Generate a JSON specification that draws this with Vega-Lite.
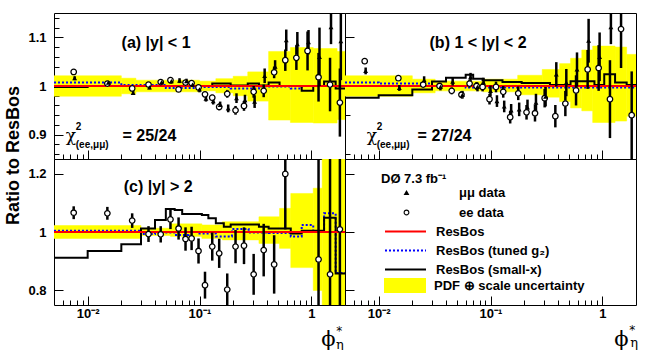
{
"$schema":"https://vega.github.io/schema/vega-lite/v6.json",
"padding":{"left":3,"top":12,"right":0,"bottom":0},
"background":"white",
"bounds":"flush",
"spacing":0,
"columns":2,
"datasets":{
"band":[
{"p":"a","s":"PDF ⊕ scale uncertainty","x1":0.005,"x2":0.02,"lo":0.979,"hi":1.021},
{"p":"a","s":"PDF ⊕ scale uncertainty","x1":0.02,"x2":0.027,"lo":0.984,"hi":1.016},
{"p":"a","s":"PDF ⊕ scale uncertainty","x1":0.027,"x2":0.1,"lo":0.988,"hi":1.012},
{"p":"a","s":"PDF ⊕ scale uncertainty","x1":0.1,"x2":0.14,"lo":0.99,"hi":1.01},
{"p":"a","s":"PDF ⊕ scale uncertainty","x1":0.14,"x2":0.2,"lo":0.986,"hi":1.015},
{"p":"a","s":"PDF ⊕ scale uncertainty","x1":0.2,"x2":0.27,"lo":0.98,"hi":1.02},
{"p":"a","s":"PDF ⊕ scale uncertainty","x1":0.27,"x2":0.415,"lo":0.969,"hi":1.029},
{"p":"a","s":"PDF ⊕ scale uncertainty","x1":0.415,"x2":0.65,"lo":0.93,"hi":1.071},
{"p":"a","s":"PDF ⊕ scale uncertainty","x1":0.65,"x2":1.04,"lo":0.925,"hi":1.079},
{"p":"a","s":"PDF ⊕ scale uncertainty","x1":1.04,"x2":1.7,"lo":0.924,"hi":1.077},
{"p":"a","s":"PDF ⊕ scale uncertainty","x1":1.7,"x2":2,"lo":0.931,"hi":1.071},
{"p":"b","s":"PDF ⊕ scale uncertainty","x1":0.005,"x2":0.02,"lo":0.979,"hi":1.021},
{"p":"b","s":"PDF ⊕ scale uncertainty","x1":0.02,"x2":0.032,"lo":0.986,"hi":1.014},
{"p":"b","s":"PDF ⊕ scale uncertainty","x1":0.032,"x2":0.086,"lo":0.99,"hi":1.01},
{"p":"b","s":"PDF ⊕ scale uncertainty","x1":0.086,"x2":0.175,"lo":0.988,"hi":1.014},
{"p":"b","s":"PDF ⊕ scale uncertainty","x1":0.175,"x2":0.29,"lo":0.982,"hi":1.022},
{"p":"b","s":"PDF ⊕ scale uncertainty","x1":0.29,"x2":0.415,"lo":0.977,"hi":1.034},
{"p":"b","s":"PDF ⊕ scale uncertainty","x1":0.415,"x2":0.52,"lo":0.968,"hi":1.046},
{"p":"b","s":"PDF ⊕ scale uncertainty","x1":0.52,"x2":0.655,"lo":0.955,"hi":1.057},
{"p":"b","s":"PDF ⊕ scale uncertainty","x1":0.655,"x2":0.82,"lo":0.949,"hi":1.074},
{"p":"b","s":"PDF ⊕ scale uncertainty","x1":0.82,"x2":1.3,"lo":0.925,"hi":1.082},
{"p":"b","s":"PDF ⊕ scale uncertainty","x1":1.3,"x2":1.65,"lo":0.928,"hi":1.08},
{"p":"b","s":"PDF ⊕ scale uncertainty","x1":1.65,"x2":2,"lo":0.938,"hi":1.065},
{"p":"c","s":"PDF ⊕ scale uncertainty","x1":0.005,"x2":0.03,"lo":0.978,"hi":1.022},
{"p":"c","s":"PDF ⊕ scale uncertainty","x1":0.03,"x2":0.055,"lo":0.988,"hi":1.013},
{"p":"c","s":"PDF ⊕ scale uncertainty","x1":0.055,"x2":0.105,"lo":0.985,"hi":1.028},
{"p":"c","s":"PDF ⊕ scale uncertainty","x1":0.105,"x2":0.16,"lo":0.978,"hi":1.024},
{"p":"c","s":"PDF ⊕ scale uncertainty","x1":0.16,"x2":0.34,"lo":0.973,"hi":1.035},
{"p":"c","s":"PDF ⊕ scale uncertainty","x1":0.34,"x2":0.52,"lo":0.961,"hi":1.052},
{"p":"c","s":"PDF ⊕ scale uncertainty","x1":0.52,"x2":0.655,"lo":0.944,"hi":1.081},
{"p":"c","s":"PDF ⊕ scale uncertainty","x1":0.655,"x2":1.04,"lo":0.878,"hi":1.132},
{"p":"c","s":"PDF ⊕ scale uncertainty","x1":1.04,"x2":1.25,"lo":0.8,"hi":1.15},
{"p":"c","s":"PDF ⊕ scale uncertainty","x1":1.25,"x2":2,"lo":0.7,"hi":1.3}
],
"lines":[
{"p":"a","m":"ResBos","x":0.005,"r":1},{"p":"a","m":"ResBos","x":2,"r":1},
{"p":"a","m":"ResBos (tuned g₂)","x":0.005,"r":1.007},{"p":"a","m":"ResBos (tuned g₂)","x":0.02,"r":1.002},{"p":"a","m":"ResBos (tuned g₂)","x":0.05,"r":0.996},{"p":"a","m":"ResBos (tuned g₂)","x":0.1,"r":0.998},{"p":"a","m":"ResBos (tuned g₂)","x":0.19,"r":0.995},{"p":"a","m":"ResBos (tuned g₂)","x":0.34,"r":0.999},{"p":"a","m":"ResBos (tuned g₂)","x":0.655,"r":0.995},{"p":"a","m":"ResBos (tuned g₂)","x":0.82,"r":1.0},{"p":"a","m":"ResBos (tuned g₂)","x":2,"r":1.0},
{"p":"a","m":"ResBos (small-x)","x":0.005,"r":0.998},{"p":"a","m":"ResBos (small-x)","x":0.01,"r":1.0},{"p":"a","m":"ResBos (small-x)","x":0.13,"r":1.005},{"p":"a","m":"ResBos (small-x)","x":0.19,"r":1.001},{"p":"a","m":"ResBos (small-x)","x":0.27,"r":1.005},{"p":"a","m":"ResBos (small-x)","x":0.34,"r":1.001},{"p":"a","m":"ResBos (small-x)","x":0.415,"r":1.007},{"p":"a","m":"ResBos (small-x)","x":0.52,"r":1.0},{"p":"a","m":"ResBos (small-x)","x":0.82,"r":0.99},{"p":"a","m":"ResBos (small-x)","x":1.04,"r":1.0},{"p":"a","m":"ResBos (small-x)","x":1.3,"r":1.009},{"p":"a","m":"ResBos (small-x)","x":1.65,"r":0.995},{"p":"a","m":"ResBos (small-x)","x":2,"r":0.995},
{"p":"b","m":"ResBos","x":0.005,"r":1},{"p":"b","m":"ResBos","x":2,"r":1},
{"p":"b","m":"ResBos (tuned g₂)","x":0.005,"r":1.007},{"p":"b","m":"ResBos (tuned g₂)","x":0.01,"r":1.005},{"p":"b","m":"ResBos (tuned g₂)","x":0.03,"r":1.0},{"p":"b","m":"ResBos (tuned g₂)","x":0.06,"r":0.997},{"p":"b","m":"ResBos (tuned g₂)","x":2,"r":0.997},
{"p":"b","m":"ResBos (small-x)","x":0.005,"r":0.976},{"p":"b","m":"ResBos (small-x)","x":0.01,"r":0.981},{"p":"b","m":"ResBos (small-x)","x":0.02,"r":0.993},{"p":"b","m":"ResBos (small-x)","x":0.03,"r":1.009},{"p":"b","m":"ResBos (small-x)","x":0.04,"r":1.017},{"p":"b","m":"ResBos (small-x)","x":0.06,"r":1.023},{"p":"b","m":"ResBos (small-x)","x":0.07,"r":1.015},{"p":"b","m":"ResBos (small-x)","x":0.085,"r":1.012},{"p":"b","m":"ResBos (small-x)","x":0.128,"r":1.008},{"p":"b","m":"ResBos (small-x)","x":0.19,"r":1.006},{"p":"b","m":"ResBos (small-x)","x":0.34,"r":1.002},{"p":"b","m":"ResBos (small-x)","x":0.52,"r":1.01},{"p":"b","m":"ResBos (small-x)","x":0.85,"r":1.002},{"p":"b","m":"ResBos (small-x)","x":1.04,"r":1.024},{"p":"b","m":"ResBos (small-x)","x":1.3,"r":1.007},{"p":"b","m":"ResBos (small-x)","x":1.65,"r":1.002},{"p":"b","m":"ResBos (small-x)","x":2,"r":1.002},
{"p":"c","m":"ResBos","x":0.005,"r":1},{"p":"c","m":"ResBos","x":2,"r":1},
{"p":"c","m":"ResBos (tuned g₂)","x":0.005,"r":1.004},{"p":"c","m":"ResBos (tuned g₂)","x":0.03,"r":0.993},{"p":"c","m":"ResBos (tuned g₂)","x":0.04,"r":0.998},{"p":"c","m":"ResBos (tuned g₂)","x":0.06,"r":0.99},{"p":"c","m":"ResBos (tuned g₂)","x":0.08,"r":1.0},{"p":"c","m":"ResBos (tuned g₂)","x":0.1,"r":0.995},{"p":"c","m":"ResBos (tuned g₂)","x":0.14,"r":0.985},{"p":"c","m":"ResBos (tuned g₂)","x":0.195,"r":1.01},{"p":"c","m":"ResBos (tuned g₂)","x":0.275,"r":0.998},{"p":"c","m":"ResBos (tuned g₂)","x":0.415,"r":0.997},{"p":"c","m":"ResBos (tuned g₂)","x":0.655,"r":0.985},{"p":"c","m":"ResBos (tuned g₂)","x":0.82,"r":1.024},{"p":"c","m":"ResBos (tuned g₂)","x":1.04,"r":1.0},{"p":"c","m":"ResBos (tuned g₂)","x":1.3,"r":1.064},{"p":"c","m":"ResBos (tuned g₂)","x":1.65,"r":0.86},{"p":"c","m":"ResBos (tuned g₂)","x":2,"r":0.86},
{"p":"c","m":"ResBos (small-x)","x":0.005,"r":0.912},{"p":"c","m":"ResBos (small-x)","x":0.01,"r":0.935},{"p":"c","m":"ResBos (small-x)","x":0.02,"r":0.958},{"p":"c","m":"ResBos (small-x)","x":0.03,"r":1.012},{"p":"c","m":"ResBos (small-x)","x":0.04,"r":1.041},{"p":"c","m":"ResBos (small-x)","x":0.05,"r":1.079},{"p":"c","m":"ResBos (small-x)","x":0.06,"r":1.075},{"p":"c","m":"ResBos (small-x)","x":0.07,"r":1.062},{"p":"c","m":"ResBos (small-x)","x":0.105,"r":1.058},{"p":"c","m":"ResBos (small-x)","x":0.12,"r":1.047},{"p":"c","m":"ResBos (small-x)","x":0.14,"r":1.03},{"p":"c","m":"ResBos (small-x)","x":0.165,"r":1.018},{"p":"c","m":"ResBos (small-x)","x":0.19,"r":1.026},{"p":"c","m":"ResBos (small-x)","x":0.34,"r":1.018},{"p":"c","m":"ResBos (small-x)","x":0.415,"r":1.012},{"p":"c","m":"ResBos (small-x)","x":0.655,"r":0.995},{"p":"c","m":"ResBos (small-x)","x":0.82,"r":1.004},{"p":"c","m":"ResBos (small-x)","x":1.3,"r":1.049},{"p":"c","m":"ResBos (small-x)","x":1.65,"r":0.858},{"p":"c","m":"ResBos (small-x)","x":2,"r":0.858}
],
"pts":[
{"p":"a","s":"ee data","x":0.0075,"v":1.029,"lo":1.025,"hi":1.033},
{"p":"a","s":"ee data","x":0.015,"v":1.005,"lo":1.002,"hi":1.008},
{"p":"a","s":"ee data","x":0.025,"v":0.995,"lo":0.991,"hi":0.999},
{"p":"a","s":"ee data","x":0.035,"v":1.003,"lo":0.999,"hi":1.007},
{"p":"a","s":"ee data","x":0.045,"v":1.008,"lo":1.004,"hi":1.012},
{"p":"a","s":"ee data","x":0.055,"v":1.012,"lo":1.008,"hi":1.016},
{"p":"a","s":"ee data","x":0.065,"v":0.993,"lo":0.988,"hi":0.998},
{"p":"a","s":"ee data","x":0.075,"v":1.007,"lo":1.002,"hi":1.012},
{"p":"a","s":"ee data","x":0.085,"v":1.006,"lo":1.001,"hi":1.011},
{"p":"a","s":"ee data","x":0.098,"v":0.997,"lo":0.992,"hi":1.002},
{"p":"a","s":"ee data","x":0.112,"v":0.983,"lo":0.977,"hi":0.989},
{"p":"a","s":"ee data","x":0.13,"v":0.976,"lo":0.97,"hi":0.982},
{"p":"a","s":"ee data","x":0.15,"v":0.957,"lo":0.95,"hi":0.964},
{"p":"a","s":"ee data","x":0.177,"v":0.984,"lo":0.976,"hi":0.992},
{"p":"a","s":"ee data","x":0.21,"v":0.95,"lo":0.941,"hi":0.959},
{"p":"a","s":"ee data","x":0.25,"v":0.959,"lo":0.949,"hi":0.969},
{"p":"a","s":"ee data","x":0.305,"v":0.988,"lo":0.976,"hi":1.0},
{"p":"a","s":"ee data","x":0.375,"v":0.99,"lo":0.977,"hi":1.003},
{"p":"a","s":"ee data","x":0.465,"v":1.028,"lo":1.016,"hi":1.04},
{"p":"a","s":"ee data","x":0.585,"v":1.053,"lo":1.031,"hi":1.075},
{"p":"a","s":"ee data","x":0.735,"v":1.058,"lo":1.033,"hi":1.083},
{"p":"a","s":"ee data","x":0.925,"v":1.072,"lo":1.032,"hi":1.112},
{"p":"a","s":"ee data","x":1.16,"v":1.018,"lo":0.968,"hi":1.068},
{"p":"a","s":"ee data","x":1.47,"v":1.003,"lo":0.948,"hi":1.058},
{"p":"a","s":"ee data","x":1.8,"v":0.966,"lo":0.896,"hi":1.036},
{"p":"a","s":"μμ data","x":0.00765,"v":1.016,"lo":1.012,"hi":1.02},
{"p":"a","s":"μμ data","x":0.0153,"v":1.007,"lo":1.004,"hi":1.01},
{"p":"a","s":"μμ data","x":0.0255,"v":0.986,"lo":0.982,"hi":0.99},
{"p":"a","s":"μμ data","x":0.0357,"v":0.997,"lo":0.993,"hi":1.001},
{"p":"a","s":"μμ data","x":0.0459,"v":1.008,"lo":1.004,"hi":1.012},
{"p":"a","s":"μμ data","x":0.0561,"v":1.01,"lo":1.005,"hi":1.015},
{"p":"a","s":"μμ data","x":0.0663,"v":1.011,"lo":1.006,"hi":1.016},
{"p":"a","s":"μμ data","x":0.0765,"v":1.01,"lo":1.005,"hi":1.015},
{"p":"a","s":"μμ data","x":0.0867,"v":1.003,"lo":0.998,"hi":1.008},
{"p":"a","s":"μμ data","x":0.1,"v":0.993,"lo":0.987,"hi":0.999},
{"p":"a","s":"μμ data","x":0.1142,"v":0.974,"lo":0.968,"hi":0.98},
{"p":"a","s":"μμ data","x":0.1326,"v":0.969,"lo":0.962,"hi":0.976},
{"p":"a","s":"μμ data","x":0.153,"v":0.961,"lo":0.954,"hi":0.968},
{"p":"a","s":"μμ data","x":0.1805,"v":0.954,"lo":0.946,"hi":0.962},
{"p":"a","s":"μμ data","x":0.2142,"v":0.975,"lo":0.965,"hi":0.985},
{"p":"a","s":"μμ data","x":0.255,"v":0.971,"lo":0.96,"hi":0.982},
{"p":"a","s":"μμ data","x":0.311,"v":0.968,"lo":0.955,"hi":0.981},
{"p":"a","s":"μμ data","x":0.3825,"v":1.021,"lo":1.006,"hi":1.036},
{"p":"a","s":"μμ data","x":0.4743,"v":1.04,"lo":1.027,"hi":1.053},
{"p":"a","s":"μμ data","x":0.5967,"v":1.094,"lo":1.072,"hi":1.116},
{"p":"a","s":"μμ data","x":0.7497,"v":1.086,"lo":1.061,"hi":1.111},
{"p":"a","s":"μμ data","x":0.9435,"v":1.09,"lo":1.065,"hi":1.115},
{"p":"a","s":"μμ data","x":1.183,"v":1.06,"lo":1.0,"hi":1.12},
{"p":"a","s":"μμ data","x":1.4994,"v":1.121,"lo":1.086,"hi":1.16},
{"p":"a","s":"μμ data","x":1.836,"v":1.092,"lo":1.012,"hi":1.2},
{"p":"b","s":"ee data","x":0.0075,"v":1.051,"lo":1.045,"hi":1.057},
{"p":"b","s":"ee data","x":0.015,"v":1.016,"lo":1.011,"hi":1.021},
{"p":"b","s":"ee data","x":0.025,"v":1.003,"lo":0.997,"hi":1.009},
{"p":"b","s":"ee data","x":0.035,"v":1.0,"lo":0.994,"hi":1.006},
{"p":"b","s":"ee data","x":0.045,"v":0.99,"lo":0.983,"hi":0.997},
{"p":"b","s":"ee data","x":0.055,"v":0.982,"lo":0.975,"hi":0.989},
{"p":"b","s":"ee data","x":0.065,"v":1.005,"lo":0.997,"hi":1.013},
{"p":"b","s":"ee data","x":0.075,"v":1.0,"lo":0.992,"hi":1.008},
{"p":"b","s":"ee data","x":0.085,"v":0.998,"lo":0.989,"hi":1.007},
{"p":"b","s":"ee data","x":0.098,"v":0.973,"lo":0.962,"hi":0.984},
{"p":"b","s":"ee data","x":0.112,"v":0.998,"lo":0.987,"hi":1.009},
{"p":"b","s":"ee data","x":0.13,"v":0.988,"lo":0.976,"hi":1.0},
{"p":"b","s":"ee data","x":0.15,"v":0.936,"lo":0.923,"hi":0.949},
{"p":"b","s":"ee data","x":0.177,"v":0.985,"lo":0.971,"hi":0.999},
{"p":"b","s":"ee data","x":0.21,"v":0.946,"lo":0.931,"hi":0.961},
{"p":"b","s":"ee data","x":0.25,"v":0.944,"lo":0.927,"hi":0.961},
{"p":"b","s":"ee data","x":0.305,"v":0.975,"lo":0.956,"hi":0.994},
{"p":"b","s":"ee data","x":0.38,"v":0.938,"lo":0.915,"hi":0.961},
{"p":"b","s":"ee data","x":0.467,"v":0.964,"lo":0.938,"hi":0.99},
{"p":"b","s":"ee data","x":0.582,"v":0.991,"lo":0.96,"hi":1.022},
{"p":"b","s":"ee data","x":0.739,"v":1.034,"lo":0.994,"hi":1.074},
{"p":"b","s":"ee data","x":0.927,"v":1.037,"lo":0.99,"hi":1.084},
{"p":"b","s":"ee data","x":1.17,"v":0.973,"lo":0.893,"hi":1.053},
{"p":"b","s":"ee data","x":1.47,"v":1.117,"lo":1.037,"hi":1.197},
{"p":"b","s":"ee data","x":1.83,"v":0.94,"lo":0.85,"hi":1.03},
{"p":"b","s":"μμ data","x":0.00765,"v":1.031,"lo":1.024,"hi":1.038},
{"p":"b","s":"μμ data","x":0.0153,"v":0.996,"lo":0.99,"hi":1.002},
{"p":"b","s":"μμ data","x":0.0255,"v":1.012,"lo":1.004,"hi":1.02},
{"p":"b","s":"μμ data","x":0.0357,"v":0.998,"lo":0.991,"hi":1.005},
{"p":"b","s":"μμ data","x":0.0459,"v":1.009,"lo":1.001,"hi":1.017},
{"p":"b","s":"μμ data","x":0.0561,"v":0.982,"lo":0.974,"hi":0.99},
{"p":"b","s":"μμ data","x":0.0663,"v":1.018,"lo":1.009,"hi":1.027},
{"p":"b","s":"μμ data","x":0.0765,"v":0.998,"lo":0.989,"hi":1.007},
{"p":"b","s":"μμ data","x":0.0867,"v":1.007,"lo":0.997,"hi":1.017},
{"p":"b","s":"μμ data","x":0.1,"v":0.99,"lo":0.979,"hi":1.001},
{"p":"b","s":"μμ data","x":0.1142,"v":0.969,"lo":0.957,"hi":0.981},
{"p":"b","s":"μμ data","x":0.1326,"v":0.958,"lo":0.946,"hi":0.97},
{"p":"b","s":"μμ data","x":0.153,"v":0.95,"lo":0.937,"hi":0.963},
{"p":"b","s":"μμ data","x":0.1805,"v":0.952,"lo":0.938,"hi":0.966},
{"p":"b","s":"μμ data","x":0.2142,"v":0.956,"lo":0.94,"hi":0.972},
{"p":"b","s":"μμ data","x":0.255,"v":0.966,"lo":0.948,"hi":0.984},
{"p":"b","s":"μμ data","x":0.311,"v":0.978,"lo":0.958,"hi":0.998},
{"p":"b","s":"μμ data","x":0.3876,"v":1.024,"lo":0.999,"hi":1.049},
{"p":"b","s":"μμ data","x":0.4763,"v":1.007,"lo":0.979,"hi":1.035},
{"p":"b","s":"μμ data","x":0.5936,"v":1.034,"lo":0.999,"hi":1.069},
{"p":"b","s":"μμ data","x":0.7538,"v":1.093,"lo":1.048,"hi":1.138},
{"p":"b","s":"μμ data","x":0.9455,"v":1.06,"lo":1.01,"hi":1.11},
{"p":"b","s":"μμ data","x":1.193,"v":1.121,"lo":1.086,"hi":1.156},
{"p":"c","s":"ee data","x":0.0075,"v":1.066,"lo":1.044,"hi":1.088},
{"p":"c","s":"ee data","x":0.015,"v":1.064,"lo":1.042,"hi":1.086},
{"p":"c","s":"ee data","x":0.025,"v":1.039,"lo":1.014,"hi":1.064},
{"p":"c","s":"ee data","x":0.035,"v":0.993,"lo":0.966,"hi":1.02},
{"p":"c","s":"ee data","x":0.045,"v":0.992,"lo":0.964,"hi":1.02},
{"p":"c","s":"ee data","x":0.055,"v":1.043,"lo":1.01,"hi":1.076},
{"p":"c","s":"ee data","x":0.065,"v":1.012,"lo":0.974,"hi":1.05},
{"p":"c","s":"ee data","x":0.075,"v":0.976,"lo":0.936,"hi":1.016},
{"p":"c","s":"ee data","x":0.085,"v":0.978,"lo":0.938,"hi":1.018},
{"p":"c","s":"ee data","x":0.098,"v":0.935,"lo":0.892,"hi":0.978},
{"p":"c","s":"ee data","x":0.112,"v":0.818,"lo":0.772,"hi":0.864},
{"p":"c","s":"ee data","x":0.13,"v":0.95,"lo":0.902,"hi":0.998},
{"p":"c","s":"ee data","x":0.15,"v":0.927,"lo":0.877,"hi":0.977},
{"p":"c","s":"ee data","x":0.177,"v":0.803,"lo":0.748,"hi":0.858},
{"p":"c","s":"ee data","x":0.21,"v":0.95,"lo":0.893,"hi":1.007},
{"p":"c","s":"ee data","x":0.25,"v":0.953,"lo":0.89,"hi":1.016},
{"p":"c","s":"ee data","x":0.305,"v":0.855,"lo":0.785,"hi":0.925},
{"p":"c","s":"ee data","x":0.375,"v":0.938,"lo":0.848,"hi":1.028},
{"p":"c","s":"ee data","x":0.465,"v":0.889,"lo":0.789,"hi":0.989},
{"p":"c","s":"ee data","x":0.585,"v":1.199,"lo":1.009,"hi":1.389},
{"p":"c","s":"ee data","x":1.16,"v":0.906,"lo":0.5,"hi":1.4},
{"p":"c","s":"ee data","x":1.47,"v":0.855,"lo":0.5,"hi":1.4},
{"p":"c","s":"ee data","x":1.8,"v":1.009,"lo":0.5,"hi":1.4}
]
},
"concat":[
{
"width":291,"height":146,
"resolve":{"scale":{"y":"independent"}},
"layer":[
{"layer":[
{"data":{"name":"band"},"transform":[{"filter":"datum.p == 'a'"}],"mark":{"type":"rect","clip":true,"stroke":"#ffff00","strokeWidth":0.5},
"encoding":{
"x":{"field":"x1","type":"quantitative","scale":{"type":"log","domain":[0.005,2],"nice":false},"axis":{"values":[0.006,0.007,0.008,0.009,0.01,0.02,0.03,0.04,0.05,0.06,0.07,0.08,0.09,0.1,0.2,0.3,0.4,0.5,0.6,0.7,0.8,0.9,1],"labels":false,"labelOverlap":false,"title":null,"tickSize":{"condition":{"test":"datum.value == 0.01 || datum.value == 0.1 || datum.value == 1","value":-9},"value":-5}}},
"x2":{"field":"x2"},
"y":{"field":"lo","type":"quantitative","scale":{"domain":[0.85,1.15],"nice":false,"zero":false},"axis":{"values":[0.9,1,1.1],"labelExpr":"datum.value == 0.9 ? '0.9' : datum.value == 1 ? '1' : '1.1'","labelFont":"Liberation Sans","labelFontSize":13,"labelFontWeight":"bold","labelColor":"black","labelOverlap":false,"labelPadding":17,"tickSize":-9,"title":"Ratio to ResBos","titleFontSize":18,"titleFontWeight":"bold","titleAngle":270,"titleX":-41,"titleY":142,"titleAlign":"center","titleBaseline":"middle"}},
"y2":{"field":"hi"},
"color":{"field":"s","type":"nominal","scale":{"domain":["PDF ⊕ scale uncertainty"],"range":["#ffff00"]},"legend":{"orient":"none","legendX":330,"legendY":265,"title":null,"labelOffset":8,"symbolType":"M-1,-0.357H1V0.357H-1Z","symbolSize":1764,"symbolStrokeWidth":0,"clipHeight":15}}}},
{"data":{"name":"lines"},"transform":[{"filter":"datum.p == 'a' && datum.m == 'ResBos (tuned g₂)'"}],"mark":{"type":"line","interpolate":"step-after","clip":true,"strokeWidth":2},
"encoding":{"x":{"field":"x","type":"quantitative"},"y":{"field":"r","type":"quantitative"},
"stroke":{"field":"m","type":"nominal","scale":{"domain":["ResBos","ResBos (tuned g₂)","ResBos (small-x)"],"range":["#ff0000","#0000ff","#000000"]},"legend":{"orient":"none","legendX":330,"legendY":212,"title":null,"labelOffset":9,"symbolType":"stroke","symbolSize":1681,"symbolStrokeWidth":2,"clipHeight":13,"rowPadding":5}},
"strokeDash":{"field":"m","type":"nominal","scale":{"domain":["ResBos","ResBos (tuned g₂)","ResBos (small-x)"],"range":[[1,0],[2,2],[1,0]]},"legend":{"orient":"none","legendX":330,"legendY":212,"title":null,"labelOffset":9,"symbolType":"stroke","symbolSize":1681,"symbolStrokeWidth":2,"clipHeight":13,"rowPadding":5}}}},
{"data":{"name":"lines"},"transform":[{"filter":"datum.p == 'a' && datum.m == 'ResBos (small-x)'"}],"mark":{"type":"line","interpolate":"step-after","clip":true,"strokeWidth":2},
"encoding":{"x":{"field":"x","type":"quantitative"},"y":{"field":"r","type":"quantitative"},"stroke":{"field":"m","type":"nominal"},"strokeDash":{"field":"m","type":"nominal"}}},
{"data":{"name":"lines"},"transform":[{"filter":"datum.p == 'a' && datum.m == 'ResBos'"}],"mark":{"type":"line","interpolate":"step-after","clip":true,"strokeWidth":2},
"encoding":{"x":{"field":"x","type":"quantitative"},"y":{"field":"r","type":"quantitative"},"stroke":{"field":"m","type":"nominal"},"strokeDash":{"field":"m","type":"nominal"}}},
{"data":{"name":"pts"},"transform":[{"filter":"datum.p == 'a'"}],"mark":{"type":"rule","clip":true,"strokeWidth":2.5,"color":"black"},
"encoding":{"x":{"field":"x","type":"quantitative"},"y":{"field":"lo","type":"quantitative"},"y2":{"field":"hi"}}},
{"data":{"name":"pts"},"transform":[{"filter":"datum.p == 'a' && datum.s == 'ee data'"}],"mark":{"type":"point","shape":"circle","filled":true,"fill":"white","strokeWidth":0,"size":34,"clip":true,"opacity":1},
"encoding":{"x":{"field":"x","type":"quantitative"},"y":{"field":"v","type":"quantitative"}}},
{"data":{"name":"pts"},"transform":[{"filter":"datum.p == 'a'"}],"mark":{"type":"point","filled":true,"fill":"black","strokeWidth":0,"clip":true,"opacity":1},
"encoding":{"x":{"field":"x","type":"quantitative"},"y":{"field":"v","type":"quantitative"},
"shape":{"field":"s","type":"nominal","scale":{"domain":["μμ data","ee data"],"range":["triangle-up","M0,-1A1,1,0,1,1,0,1A1,1,0,1,1,0,-1ZM0,-0.62A0.62,0.62,0,1,0,0,0.62A0.62,0.62,0,1,0,0,-0.62Z"]},"legend":{"orient":"none","legendX":327,"legendY":160,"title":"DØ 7.3 fb⁻¹","titlePadding":0,"labelOffset":46,"symbolOffset":19,"symbolSize":34,"symbolFillColor":"black","symbolStrokeWidth":0,"clipHeight":13,"rowPadding":6}},
"size":{"condition":{"test":"datum.s == 'ee data'","value":46},"value":24}}},
{"data":{"values":[{}]},"mark":{"type":"text","text":"(a) |y| < 1","font":"Liberation Sans","fontWeight":"bold","fontSize":16,"align":"left","baseline":"middle"},"encoding":{"x":{"datum":0.0201},"y":{"datum":1.088}}},
{"data":{"values":[{}]},"mark":{"type":"text","text":"χ","font":"DejaVu Serif","fontSize":17,"align":"left","baseline":"alphabetic"},"encoding":{"x":{"datum":0.00637},"y":{"datum":0.887}}},
{"data":{"values":[{}]},"mark":{"type":"text","text":"2","font":"Liberation Sans","fontWeight":"bold","fontSize":10,"align":"left","baseline":"alphabetic"},"encoding":{"x":{"datum":0.00783},"y":{"datum":0.9106}}},
{"data":{"values":[{}]},"mark":{"type":"text","text":"(ee,μμ)","font":"Liberation Sans","fontWeight":"bold","fontSize":10,"align":"left","baseline":"alphabetic"},"encoding":{"x":{"datum":0.00783},"y":{"datum":0.8726}}},
{"data":{"values":[{}]},"mark":{"type":"text","text":"= 25/24","font":"Liberation Sans","fontWeight":"bold","fontSize":16,"align":"left","baseline":"alphabetic"},"encoding":{"x":{"datum":0.0205},"y":{"datum":0.887}}}
]},
{"data":{"values":[{}]},"mark":{"type":"text","text":" "},"encoding":{"x":{"datum":1},"y":{"datum":1,"type":"quantitative","scale":{"domain":[0.85,1.15],"nice":false,"zero":false},"axis":{"orient":"left","values":[0.86,0.88,0.92,0.94,0.96,0.98,1.02,1.04,1.06,1.08,1.12,1.14],"labels":false,"tickSize":-5,"title":null}}}}
]
},
{
"width":291,"height":146,
"layer":[
{"data":{"name":"band"},"transform":[{"filter":"datum.p == 'b'"}],"mark":{"type":"rect","clip":true,"stroke":"#ffff00","strokeWidth":0.5},
"encoding":{
"x":{"field":"x1","type":"quantitative","scale":{"type":"log","domain":[0.005,2],"nice":false},"axis":{"values":[0.006,0.007,0.008,0.009,0.01,0.02,0.03,0.04,0.05,0.06,0.07,0.08,0.09,0.1,0.2,0.3,0.4,0.5,0.6,0.7,0.8,0.9,1],"labels":false,"labelOverlap":false,"title":null,"tickSize":{"condition":{"test":"datum.value == 0.01 || datum.value == 0.1 || datum.value == 1","value":-9},"value":-5}}},
"x2":{"field":"x2"},
"y":{"field":"lo","type":"quantitative","scale":{"domain":[0.85,1.15],"nice":false,"zero":false},"axis":{"values":[0.86,0.88,0.9,0.92,0.94,0.96,0.98,1,1.02,1.04,1.06,1.08,1.1,1.12,1.14],"labels":false,"labelOverlap":false,"title":null,"tickSize":{"condition":{"test":"datum.value == 0.9 || datum.value == 1 || datum.value == 1.1","value":-9},"value":-5}}},
"y2":{"field":"hi"},
"color":{"field":"s","type":"nominal","scale":{"domain":["PDF ⊕ scale uncertainty"],"range":["#ffff00"]}}}},
{"data":{"name":"lines"},"transform":[{"filter":"datum.p == 'b' && datum.m == 'ResBos (tuned g₂)'"}],"mark":{"type":"line","interpolate":"step-after","clip":true,"strokeWidth":2},
"encoding":{"x":{"field":"x","type":"quantitative"},"y":{"field":"r","type":"quantitative"},"stroke":{"field":"m","type":"nominal","scale":{"domain":["ResBos","ResBos (tuned g₂)","ResBos (small-x)"],"range":["#ff0000","#0000ff","#000000"]}},"strokeDash":{"field":"m","type":"nominal","scale":{"domain":["ResBos","ResBos (tuned g₂)","ResBos (small-x)"],"range":[[1,0],[2,2],[1,0]]}}}},
{"data":{"name":"lines"},"transform":[{"filter":"datum.p == 'b' && datum.m == 'ResBos (small-x)'"}],"mark":{"type":"line","interpolate":"step-after","clip":true,"strokeWidth":2},
"encoding":{"x":{"field":"x","type":"quantitative"},"y":{"field":"r","type":"quantitative"},"stroke":{"field":"m","type":"nominal"},"strokeDash":{"field":"m","type":"nominal"}}},
{"data":{"name":"lines"},"transform":[{"filter":"datum.p == 'b' && datum.m == 'ResBos'"}],"mark":{"type":"line","interpolate":"step-after","clip":true,"strokeWidth":2},
"encoding":{"x":{"field":"x","type":"quantitative"},"y":{"field":"r","type":"quantitative"},"stroke":{"field":"m","type":"nominal"},"strokeDash":{"field":"m","type":"nominal"}}},
{"data":{"name":"pts"},"transform":[{"filter":"datum.p == 'b'"}],"mark":{"type":"rule","clip":true,"strokeWidth":2.5,"color":"black"},
"encoding":{"x":{"field":"x","type":"quantitative"},"y":{"field":"lo","type":"quantitative"},"y2":{"field":"hi"}}},
{"data":{"name":"pts"},"transform":[{"filter":"datum.p == 'b' && datum.s == 'ee data'"}],"mark":{"type":"point","shape":"circle","filled":true,"fill":"white","strokeWidth":0,"size":34,"clip":true,"opacity":1},
"encoding":{"x":{"field":"x","type":"quantitative"},"y":{"field":"v","type":"quantitative"}}},
{"data":{"name":"pts"},"transform":[{"filter":"datum.p == 'b'"}],"mark":{"type":"point","filled":true,"fill":"black","strokeWidth":0,"clip":true,"opacity":1},
"encoding":{"x":{"field":"x","type":"quantitative"},"y":{"field":"v","type":"quantitative"},
"shape":{"field":"s","type":"nominal","scale":{"domain":["μμ data","ee data"],"range":["triangle-up","M0,-1A1,1,0,1,1,0,1A1,1,0,1,1,0,-1ZM0,-0.62A0.62,0.62,0,1,0,0,0.62A0.62,0.62,0,1,0,0,-0.62Z"]}},
"size":{"condition":{"test":"datum.s == 'ee data'","value":46},"value":24}}},
{"data":{"values":[{}]},"mark":{"type":"text","text":"(b) 1 < |y| < 2","font":"Liberation Sans","fontWeight":"bold","fontSize":16,"align":"left","baseline":"middle"},"encoding":{"x":{"datum":0.0285},"y":{"datum":1.088}}},
{"data":{"values":[{}]},"mark":{"type":"text","text":"χ","font":"DejaVu Serif","fontSize":17,"align":"left","baseline":"alphabetic"},"encoding":{"x":{"datum":0.00781},"y":{"datum":0.887}}},
{"data":{"values":[{}]},"mark":{"type":"text","text":"2","font":"Liberation Sans","fontWeight":"bold","fontSize":10,"align":"left","baseline":"alphabetic"},"encoding":{"x":{"datum":0.0096},"y":{"datum":0.9106}}},
{"data":{"values":[{}]},"mark":{"type":"text","text":"(ee,μμ)","font":"Liberation Sans","fontWeight":"bold","fontSize":10,"align":"left","baseline":"alphabetic"},"encoding":{"x":{"datum":0.0096},"y":{"datum":0.8726}}},
{"data":{"values":[{}]},"mark":{"type":"text","text":"= 27/24","font":"Liberation Sans","fontWeight":"bold","fontSize":16,"align":"left","baseline":"alphabetic"},"encoding":{"x":{"datum":0.0223},"y":{"datum":0.887}}}
]
},
{
"width":291,"height":146,
"layer":[
{"data":{"name":"band"},"transform":[{"filter":"datum.p == 'c'"}],"mark":{"type":"rect","clip":true,"stroke":"#ffff00","strokeWidth":0.5},
"encoding":{
"x":{"field":"x1","type":"quantitative","scale":{"type":"log","domain":[0.005,2],"nice":false},"axis":{"values":[0.006,0.007,0.008,0.009,0.01,0.02,0.03,0.04,0.05,0.06,0.07,0.08,0.09,0.1,0.2,0.3,0.4,0.5,0.6,0.7,0.8,0.9,1],"labelExpr":"datum.value == 0.01 ? '10⁻²' : datum.value == 0.1 ? '10⁻¹' : datum.value == 1 ? '1' : ''","labelOverlap":false,"labelPadding":11,"tickSize":{"condition":{"test":"datum.value == 0.01 || datum.value == 0.1 || datum.value == 1","value":-9},"value":-5},"title":"ϕ","titleFont":"DejaVu Serif","titleFontSize":21,"titleFontWeight":"normal","titleX":274,"titleY":34,"titleAlign":"center","titleBaseline":"middle"}},
"x2":{"field":"x2"},
"y":{"field":"lo","type":"quantitative","scale":{"domain":[0.75,1.25],"nice":false,"zero":false},"axis":{"values":[0.8,0.85,0.9,0.95,1,1.05,1.1,1.15,1.2],"labelExpr":"datum.value == 0.8 ? '0.8' : datum.value == 1 ? '1' : datum.value == 1.2 ? '1.2' : ''","labelOverlap":false,"labelPadding":17,"tickSize":{"condition":{"test":"datum.value == 0.8 || datum.value == 1 || datum.value == 1.2","value":-9},"value":-5},"title":null}},
"y2":{"field":"hi"},
"color":{"field":"s","type":"nominal","scale":{"domain":["PDF ⊕ scale uncertainty"],"range":["#ffff00"]}}}},
{"data":{"name":"lines"},"transform":[{"filter":"datum.p == 'c' && datum.m == 'ResBos (tuned g₂)'"}],"mark":{"type":"line","interpolate":"step-after","clip":true,"strokeWidth":2},
"encoding":{"x":{"field":"x","type":"quantitative"},"y":{"field":"r","type":"quantitative"},"stroke":{"field":"m","type":"nominal","scale":{"domain":["ResBos","ResBos (tuned g₂)","ResBos (small-x)"],"range":["#ff0000","#0000ff","#000000"]}},"strokeDash":{"field":"m","type":"nominal","scale":{"domain":["ResBos","ResBos (tuned g₂)","ResBos (small-x)"],"range":[[1,0],[2,2],[1,0]]}}}},
{"data":{"name":"lines"},"transform":[{"filter":"datum.p == 'c' && datum.m == 'ResBos (small-x)'"}],"mark":{"type":"line","interpolate":"step-after","clip":true,"strokeWidth":2},
"encoding":{"x":{"field":"x","type":"quantitative"},"y":{"field":"r","type":"quantitative"},"stroke":{"field":"m","type":"nominal"},"strokeDash":{"field":"m","type":"nominal"}}},
{"data":{"name":"lines"},"transform":[{"filter":"datum.p == 'c' && datum.m == 'ResBos'"}],"mark":{"type":"line","interpolate":"step-after","clip":true,"strokeWidth":2},
"encoding":{"x":{"field":"x","type":"quantitative"},"y":{"field":"r","type":"quantitative"},"stroke":{"field":"m","type":"nominal"},"strokeDash":{"field":"m","type":"nominal"}}},
{"data":{"name":"pts"},"transform":[{"filter":"datum.p == 'c'"}],"mark":{"type":"rule","clip":true,"strokeWidth":2.5,"color":"black"},
"encoding":{"x":{"field":"x","type":"quantitative"},"y":{"field":"lo","type":"quantitative"},"y2":{"field":"hi"}}},
{"data":{"name":"pts"},"transform":[{"filter":"datum.p == 'c' && datum.s == 'ee data'"}],"mark":{"type":"point","shape":"circle","filled":true,"fill":"white","strokeWidth":0,"size":34,"clip":true,"opacity":1},
"encoding":{"x":{"field":"x","type":"quantitative"},"y":{"field":"v","type":"quantitative"}}},
{"data":{"name":"pts"},"transform":[{"filter":"datum.p == 'c'"}],"mark":{"type":"point","filled":true,"fill":"black","strokeWidth":0,"clip":true,"opacity":1},
"encoding":{"x":{"field":"x","type":"quantitative"},"y":{"field":"v","type":"quantitative"},
"shape":{"field":"s","type":"nominal","scale":{"domain":["μμ data","ee data"],"range":["triangle-up","M0,-1A1,1,0,1,1,0,1A1,1,0,1,1,0,-1ZM0,-0.62A0.62,0.62,0,1,0,0,0.62A0.62,0.62,0,1,0,0,-0.62Z"]}},
"size":{"condition":{"test":"datum.s == 'ee data'","value":46},"value":24}}},
{"data":{"values":[{}]},"mark":{"type":"text","text":"(c) |y| > 2","font":"Liberation Sans","fontWeight":"bold","fontSize":16,"align":"left","baseline":"middle"},"encoding":{"x":{"datum":0.021},"y":{"datum":1.155}}},
{"data":{"values":[{}]},"mark":{"type":"text","text":"*","font":"DejaVu Sans","fontSize":12,"align":"left","baseline":"middle"},"encoding":{"x":{"datum":1.672},"y":{"datum":0.6614}}},
{"data":{"values":[{}]},"mark":{"type":"text","text":"η","font":"DejaVu Serif","fontSize":13,"align":"left","baseline":"middle"},"encoding":{"x":{"datum":1.66},"y":{"datum":0.6134}}}
]
},
{
"width":291,"height":146,
"layer":[
{"data":{"values":[{}]},"mark":{"type":"text","text":"*","font":"DejaVu Sans","fontSize":12,"align":"left","baseline":"middle"},
"encoding":{
"x":{"datum":1.742,"type":"quantitative","scale":{"type":"log","domain":[0.005,2],"nice":false},"axis":{"values":[0.006,0.007,0.008,0.009,0.01,0.02,0.03,0.04,0.05,0.06,0.07,0.08,0.09,0.1,0.2,0.3,0.4,0.5,0.6,0.7,0.8,0.9,1],"labelExpr":"datum.value == 0.01 ? '10⁻²' : datum.value == 0.1 ? '10⁻¹' : datum.value == 1 ? '1' : ''","labelOverlap":false,"labelPadding":11,"tickSize":{"condition":{"test":"datum.value == 0.01 || datum.value == 0.1 || datum.value == 1","value":-9},"value":-5},"title":"ϕ","titleFont":"DejaVu Serif","titleFontSize":21,"titleFontWeight":"normal","titleX":276,"titleY":34,"titleAlign":"center","titleBaseline":"middle"}},
"y":{"datum":0.665,"type":"quantitative","scale":{"domain":[0.75,1.25],"nice":false,"zero":false},"axis":{"values":[0.8,0.85,0.9,0.95,1,1.05,1.1,1.15,1.2],"labels":false,"labelOverlap":false,"tickSize":{"condition":{"test":"datum.value == 0.8 || datum.value == 1 || datum.value == 1.2","value":-9},"value":-5},"title":null}}}},
{"data":{"values":[{}]},"mark":{"type":"text","text":"η","font":"DejaVu Serif","fontSize":13,"align":"left","baseline":"middle"},"encoding":{"x":{"datum":1.778},"y":{"datum":0.62}}}
]
}
],
"config":{
"view":{"stroke":"black","strokeWidth":1},
"font":"Liberation Sans",
"axis":{"domain":false,"grid":false,"tickColor":"black","tickWidth":1,"labelColor":"black","labelFont":"Liberation Sans","labelFontSize":13,"labelFontWeight":"bold","labelFlush":false,"labelOverlap":false,"titleColor":"black","titleFont":"Liberation Sans"},
"legend":{"labelFont":"Liberation Sans","labelFontSize":13,"labelFontWeight":"bold","labelColor":"black","titleColor":"black","titleFont":"Liberation Sans","titleFontSize":13,"titleFontWeight":"bold","padding":0,"symbolOpacity":1,"labelLimit":400}
}
}
